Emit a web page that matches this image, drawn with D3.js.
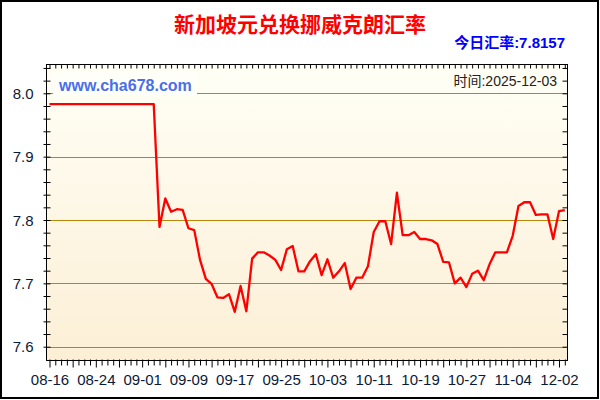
<!DOCTYPE html>
<html><head><meta charset="utf-8">
<script src="https://cdn.jsdelivr.net/npm/d3@7"></script>
<style>body{margin:0;background:#fff}svg{display:block}</style>
</head><body><svg id="c" width="600" height="400"></svg>
<script>
const dates = [
"08-16","08-17","08-18","08-19","08-20","08-21","08-22","08-23","08-24","08-25","08-26","08-27","08-28","08-29","08-30","08-31",
"09-01","09-02","09-03","09-04","09-05","09-06","09-07","09-08","09-09","09-10","09-11","09-12","09-13","09-14","09-15","09-16","09-17","09-18","09-19","09-20","09-21","09-22","09-23","09-24","09-25","09-26","09-27","09-28","09-29","09-30",
"10-01","10-02","10-03","10-04","10-05","10-06","10-07","10-08","10-09","10-10","10-11","10-12","10-13","10-14","10-15","10-16","10-17","10-18","10-19","10-20","10-21","10-22","10-23","10-24","10-25","10-26","10-27","10-28","10-29","10-30","10-31",
"11-01","11-02","11-03","11-04","11-25","11-26","11-27","11-28","11-29","11-30","12-01","12-02","12-03"];
const rates = [
7.983,7.983,7.983,7.983,7.983,7.983,7.983,7.983,7.983,7.983,7.983,7.983,7.983,7.983,7.983,7.983,7.983,7.983,7.983,
7.789,7.834,7.813,7.817,7.816,7.787,7.784,7.737,7.707,7.699,7.678,7.677,7.683,7.655,7.696,7.656,7.739,7.749,
7.749,7.744,7.737,7.721,7.754,7.759,7.719,7.719,7.735,7.746,7.713,7.738,7.709,7.719,7.732,7.691,7.709,7.709,7.727,
7.781,7.798,7.798,7.762,7.843,7.776,7.776,7.781,7.770,7.770,7.768,7.762,7.734,7.733,7.700,7.709,7.694,7.715,7.720,
7.705,7.730,7.749,7.749,7.749,7.775,7.822,7.828,7.828,7.808,7.809,7.809,7.770,7.814,7.8157];
const yLabelValues = [7.6, 7.7, 7.8, 7.9, 8.0];
const labelEvery = 8;
const titleText = "新加坡元兑换挪威克朗汇率";
const todayText = "今日汇率:7.8157";
const timeText = "时间:2025-12-03";
const siteText = "www.cha678.com";

const svg = d3.select("#c");
const L = 46, R = 568, T = 64, B = 360;
const x = d3.scaleLinear().domain([0, dates.length - 1]).range([49.5, 564.8]);
const y = d3.scaleLinear().domain([7.6, 8.0]).range([346.7, 93.3]);

const defs = svg.append("defs");
const g = defs.append("linearGradient").attr("id", "bg").attr("x1", 0).attr("y1", 0).attr("x2", 0).attr("y2", 1);
g.append("stop").attr("offset", "0%").attr("stop-color", "#FFFFF6");
g.append("stop").attr("offset", "100%").attr("stop-color", "#FCEFD6");

svg.append("rect").attr("x", L).attr("y", T).attr("width", R - L).attr("height", B - T).attr("fill", "url(#bg)");

// grid lines
svg.append("g").selectAll("line").data(yLabelValues).join("line")
  .attr("x1", L).attr("x2", R)
  .attr("y1", d => Math.round(y(d)) + 0.5).attr("y2", d => Math.round(y(d)) + 0.5)
  .attr("stroke", "#B8860B").attr("stroke-width", 1);

// site label box
svg.append("rect").attr("x", 53).attr("y", 73).attr("width", 144).attr("height", 23).attr("fill", "#FFFFF9");
svg.append("text").attr("x", 59).attr("y", 91).text(siteText)
  .attr("font-family", "Liberation Sans, Arial, sans-serif").attr("font-weight", "bold")
  .attr("font-size", 16).attr("fill", "#4A6EEA");
svg.append("text").attr("x", 557).attr("y", 86).text(timeText).attr("text-anchor", "end")
  .attr("font-family", "Liberation Sans, Noto Sans CJK SC, sans-serif")
  .attr("font-size", 14).attr("fill", "#222");

// data line
svg.append("path").datum(rates)
  .attr("d", d3.line().x((d, i) => x(i)).y(d => y(d)))
  .attr("fill", "none").attr("stroke", "#FF0000").attr("stroke-width", 2.3).attr("stroke-linejoin", "round");

// minor y ticks (every 0.02)
const yMinor = d3.range(380, 403).map(k => k / 50);
// x ticks: one per data point
const xTicks = d3.range(0, dates.length);

const fontAxis = "Liberation Sans, Arial, sans-serif";

// left axis
const leftAx = svg.append("g").attr("transform", `translate(${L + 0.5},0)`)
  .call(d3.axisLeft(y).tickValues(yMinor).tickSize(3).tickFormat(""));
leftAx.selectAll("line").attr("x2", -3).attr("x1", 4).attr("stroke", "#000");
leftAx.select(".domain").remove();
svg.append("g").attr("transform", `translate(33.5,0)`)
  .call(d3.axisLeft(y).tickValues(yLabelValues).tickSize(0).tickPadding(0).tickFormat(d3.format(".1f")))
  .call(a => a.select(".domain").remove())
  .selectAll("text").attr("font-family", fontAxis).attr("font-size", 15).attr("fill", "#0A1A3A").attr("dy", "0.34em");

// right axis ticks inward
const rightAx = svg.append("g").attr("transform", `translate(${R - 0.5},0)`)
  .call(d3.axisLeft(y).tickValues(yMinor).tickSize(5).tickFormat(""));
rightAx.selectAll("line").attr("stroke", "#000");
rightAx.select(".domain").remove();

// bottom axis ticks
const botAx = svg.append("g").attr("transform", `translate(0,${B + 0.5})`)
  .call(d3.axisBottom(x).tickValues(xTicks).tickSize(5).tickFormat(""));
botAx.select(".domain").remove();
botAx.selectAll("line").attr("y1", -1).attr("y2", (d, i) => i % 4 === 0 ? 7 : 5).attr("stroke", "#000");
const labIdx = d3.range(0, dates.length, labelEvery);
svg.append("g").attr("transform", `translate(0,${B})`)
  .call(d3.axisBottom(x).tickValues(labIdx).tickSize(0).tickPadding(0).tickFormat(i => dates[i]))
  .call(a => a.select(".domain").remove())
  .selectAll("text").attr("font-family", fontAxis).attr("font-size", 15).attr("fill", "#0A1A3A")
  .attr("dy", null).attr("y", 25);

// top axis ticks inward
const topAx = svg.append("g").attr("transform", `translate(0,${T + 0.5})`)
  .call(d3.axisBottom(x).tickValues(xTicks).tickSize(4).tickFormat(""));
topAx.select(".domain").remove();
topAx.selectAll("line").attr("stroke", "#000");

// plot frame
svg.append("rect").attr("x", L + 0.5).attr("y", T + 0.5).attr("width", R - L - 1).attr("height", B - T)
  .attr("fill", "none").attr("stroke", "#000").attr("stroke-width", 1);

// outer border
svg.append("rect").attr("x", 1).attr("y", 1).attr("width", 597).attr("height", 397)
  .attr("fill", "none").attr("stroke", "#000").attr("stroke-width", 2);

// titles
svg.append("text").attr("x", 300).attr("y", 32).attr("text-anchor", "middle").text(titleText)
  .attr("font-family", "Noto Sans CJK SC, sans-serif").attr("font-weight", "bold")
  .attr("font-size", 21).attr("fill", "#FF0000");
svg.append("text").attr("x", 565).attr("y", 48).attr("text-anchor", "end").text(todayText)
  .attr("font-family", "Liberation Sans, Noto Sans CJK SC, sans-serif").attr("font-weight", "bold")
  .attr("font-size", 15).attr("fill", "#0000FF");
</script></body></html>
